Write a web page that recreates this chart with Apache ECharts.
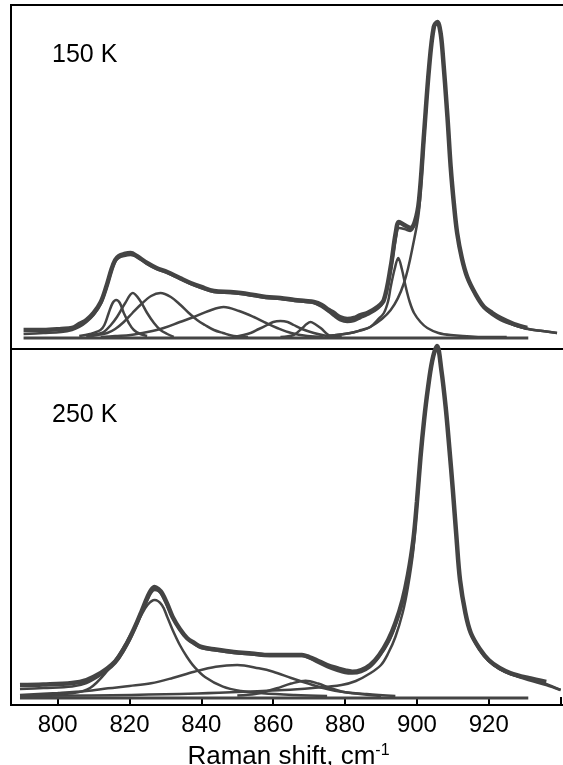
<!DOCTYPE html>
<html><head><meta charset="utf-8">
<script src="https://cdn.jsdelivr.net/npm/echarts@6/dist/echarts.min.js"></script>
<style>html,body{margin:0;padding:0;background:#fff}#c{width:563px;height:765px}</style>
</head><body><div id="c"></div>
<script>
// ---- axis ticks / labels ----
const xTickValues = [800, 820, 840, 860, 880, 900, 920, 940];
const xTickLabels = [800, 820, 840, 860, 880, 900, 920];
const panelLabels = ['150 K', '250 K'];
const xAxisTitle = 'Raman shift, cm';
const xAxisTitleSup = '-1';

// ---- 150 K panel (intensity, arbitrary units) ----
const t150Data = [[790.5,19],[796,19],[801,20],[804,21],[806,25],[808,29],[810,36],[812,47],[813.5,62],[815,80],[816,89],[817,93],[818.5,95],[820.3,96],[822,93],[824.9,86],[827.5,81],[830.5,77],[834,71],[837,66],[840,62],[843.5,58],[848.1,57],[851,56],[854.6,54],[858,52],[862,51],[866,49],[869,48],[871.3,47],[873.5,44],[875.5,39],[876.9,36],[878.5,32],[880.6,30],[882.5,31],[884.3,34],[886.2,36],[889,42],[890.8,49],[892.7,82],[894.1,116],[895,127],[896.5,124],[898.2,121],[899.5,128],[900.6,149],[902,216],[903.4,282],[904.7,322],[905.7,327],[906.5,318],[907.1,299],[908.5,232],[909.4,182],[910.3,145],[911.2,116],[912.5,91],[914,72],[916.3,55],[918.7,42],[921,36],[923.3,31],[927,25],[930.7,21]];
const t150Fit = [[790.5,15],[796,16],[801,17],[804,19],[806,22],[808,27],[810,34],[812,45],[813.5,60],[815,78],[816,87],[817,91],[818.5,93],[820.3,94],[822,92],[824.9,85],[827.5,80],[830.5,76],[834,70],[837,65],[840,61],[843.5,57],[848.1,56],[851,55],[854.6,53],[858,51],[862,50],[866,48],[869,47],[871.3,46],[873.5,42],[875.5,37],[876.9,33],[878.5,29],[880.6,27],[882.5,28],[884.3,31],[886.2,34],[889,40],[890.8,48],[892.7,78],[894.1,110],[895,121],[896.5,120],[898.2,118],[899.5,126],[900.6,147],[902,214],[903.4,281],[904.7,321],[905.7,326],[906.5,317],[907.1,298],[908.5,231],[909.4,181],[910.3,144],[911.2,115],[912.5,90],[914,71],[916.3,54],[918.7,41],[921,34],[923.3,29],[927,24],[931,20],[935,18],[939,16]];
const t150C816 = [[806,13],[809,15],[811.9,19],[813,24],[814.2,36],[815.3,46],[816.3,49],[817.3,46],[818.4,36],[819.8,26],[821.2,19],[823,15],[824.9,13]];
const t150C821 = [[808,13],[811,15],[812.8,17],[814.8,24],[816.5,32],[818.8,46],[820.9,56],[823,48],[824.9,36],[826.8,26],[828.6,19],[830.5,15],[832.3,12]];
const t150C829 = [[808,12],[811,14],[813.8,16],[816,20],[818.4,27],[820.8,36],[823,44],[826,53],[828.6,56],[831.5,52],[834.2,44],[836.5,36],[838.8,29],[841,24],[843.5,19],[846,16],[849,13],[853,12]];
const t150C846 = [[812,12],[816,13],[820.3,14],[825,17],[829.5,21],[834,27],[837.9,32],[842,38],[846.2,42],[850.5,38],[854.6,32],[858,26],[861.1,21],[865,16],[869.5,13],[874,12]];
const t150C862 = [[849,12],[853.7,16],[856,20],[858.3,24],[860,27],[862,28],[864,27],[865.7,24],[868,20],[871.3,16],[875,13],[879,12]];
const t150C871 = [[862,12],[865.7,14],[868.1,21],[869.3,25],[870.4,27],[871.6,25],[873.2,21],[876,13],[879,12]];
const t150C894 = [[875,13],[881.5,16],[884.5,19],[887,22],[889,29],[890.8,36],[892,48],[892.7,62],[893.8,80],[894.8,91],[895.8,80],[896.9,62],[898,47],[899.2,36],[901,27],[902.9,21],[906,16],[909.4,14],[918.7,12],[925,12]];
const t150C906 = [[875,13],[881.5,16],[887,22],[892.7,39],[896.4,66],[899.2,109],[900.6,139],[902,209],[903.4,280],[904.7,320],[905.7,327],[906.5,318],[907.1,299],[908.5,232],[909.4,182],[910.3,145],[911.2,116],[912.5,91],[914,72],[916.3,55],[918.7,42],[921,35],[923.3,30],[927,24],[931,20],[935,18],[939,16]];
const t150Base = [[790.5,11],[931,11]];

// ---- 250 K panel ----
const b250Data = [[789.5,20],[796,20.5],[804,22],[808,25],[812,32],[815,40],[817,48],[819.5,63],[822,82],[823.5,95],[825,108],[826,115],[827,118],[828,116],[829,112],[830.5,101],[832,88],[834,76],[836,67],[838,62],[840,58],[844,55.5],[849,53],[854,51.5],[859,50],[864,50],[868,50],[870,48],[872,45],[875,40],[878,36.5],[880,34.5],[882,33.3],[884.5,35],[887,40],[889.5,50],[892,65],[894,82],[896,105],[897.5,130],[899,165],[900,203],[901,248],[902,285],[903,315],[904.3,345],[905.6,359],[906.8,335],[908,298],[909,258],[910,215],[911,168],[912,125],[913.5,92],[915,72],[917.5,56],[920,45],[923,37],[926,32],[931,27],[936,23]];
const b250Fit = [[789.5,16],[796,17],[804,18.5],[808,22],[812,30],[815,38],[817,46],[819.5,61],[822,80],[823.5,93],[825,105],[826,112],[827,115],[828,114],[829,110],[830.5,99],[832,87],[834,75],[836,66],[838,61],[840,57],[844,54.5],[849,52],[854,50.5],[859,49],[864,49],[868,49],[870,47],[872,43],[875,38],[878,34],[880,32],[882,31.5],[884.5,33],[887,38],[889.5,48],[892,62],[894,79],[896,102],[897.5,127],[899,162],[900,201],[901,246],[902,284],[903,314],[904.3,344],[905.6,358],[906.8,334],[908,297],[909,257],[910,214],[911,167],[912,124],[913.5,91],[915,71],[917.5,55],[920,44],[923,36],[926,31],[931,26],[936,21],[940,15]];
const b250C827 = [[789.8,9],[797,10.5],[804,11.7],[809,17],[814,35],[817,50],[819,62],[821,75],[823,88],[825,100],[827,105],[829,100],[830.5,88],[832,75],[834,60],[836,48],[838,38.3],[841,28],[846,18.3],[851,14],[857,11.7],[866,10],[875,9]];
const b250C850 = [[789.5,10],[800,12],[808,14],[814,16.7],[820,19],[826,21.7],[832,27],[838,33.3],[844,38.3],[850,40],[856,36.7],[860,33.3],[865,27],[871,20],[875,16],[879,13.3],[886,11],[894,9]];
const b250C869 = [[850,9.5],[855,11],[858,13.5],[861,16.7],[865,21.5],[869,24.3],[872.5,21.5],[876,16.7],[879,13.5],[882,11.7],[890,9]];
const b250C906 = [[789.5,9],[834,11],[863,15],[871,17],[879,20],[883,24],[887,31.7],[890,40],[892,51.7],[894,68],[896,91.7],[897.5,118],[899,155],[900,198],[901,245],[902,283],[903,313],[904.3,343],[905.6,359],[906.8,335],[908,298],[909,258],[910,215],[911,168],[912,125],[913.5,92],[915,72],[917.5,55],[920,44],[923,36],[926,31],[931,25],[936,20],[940,15]];
const b250Base = [[789.5,7],[931,7]];

const LINE = '#444444';
function ln(data, gi, w, clip) {
  return {type:'line', data:data, xAxisIndex:gi, yAxisIndex:gi, showSymbol:false, smooth:0.35,
    clip: clip !== false, lineStyle:{color:LINE, width:w}, z: w > 3 ? 3 : 2, silent:true};
}

const chart = echarts.init(document.getElementById('c'), null, {renderer:'canvas'});
const FONT = "'Liberation Sans', Arial, sans-serif";
chart.setOption({
  animation:false,
  backgroundColor:'#fff',
  grid:[
    {left:11, top:5, width:555, height:344, show:true, borderColor:'#000', borderWidth:2, backgroundColor:'transparent', containLabel:false, outerBoundsMode:'none'},
    {left:11, top:349, width:555, height:356, show:true, borderColor:'#000', borderWidth:2, backgroundColor:'transparent', containLabel:false, outerBoundsMode:'none'}
  ],
  xAxis:[
    {type:'value', gridIndex:0, min:787, max:941.5, axisLine:{show:false}, axisTick:{show:false}, axisLabel:{show:false}, splitLine:{show:false}},
    {type:'value', gridIndex:1, min:787, max:941.5,
      axisLine:{show:true, lineStyle:{color:'#000', width:2}},
      axisTick:{show:true, inside:true, length:8, lineStyle:{color:'#000', width:2}, customValues:xTickValues},
      axisLabel:{show:true, margin:8, color:'#000', fontSize:24, fontFamily:FONT, customValues:xTickLabels},
      splitLine:{show:false},
      name: '{t|' + xAxisTitle + '}{s|' + xAxisTitleSup + '}', nameLocation:'middle', nameGap:38,
      nameTextStyle:{rich:{t:{fontSize:26, fontFamily:FONT, color:'#000'}, s:{fontSize:16, fontFamily:FONT, color:'#000', verticalAlign:'top', padding:[0,0,12,0]}}}
    }
  ],
  yAxis:[
    {type:'value', gridIndex:0, min:0, max:344, show:false},
    {type:'value', gridIndex:1, min:0, max:356, show:false}
  ],
  graphic:[
    {type:'text', left:52, top:43, style:{text:panelLabels[0], fontSize:25, fontFamily:FONT, fill:'#000'}},
    {type:'text', left:52, top:403, style:{text:panelLabels[1], fontSize:25, fontFamily:FONT, fill:'#000'}}
  ],
  series:[
    ln(t150Base,0,3), ln(t150C816,0,2.5), ln(t150C821,0,2.5), ln(t150C829,0,2.5), ln(t150C846,0,2.5),
    ln(t150C862,0,2.5), ln(t150C871,0,2.5), ln(t150C894,0,2.5), ln(t150C906,0,2.5), ln(t150Fit,0,2.5), ln(t150Data,0,4.5),
    ln(b250Base,1,3), ln(b250C827,1,2.5), ln(b250C850,1,2.5), ln(b250C869,1,2.5), ln(b250C906,1,2.5,false),
    ln(b250Fit,1,2.5,false), ln(b250Data,1,4.5,false)
  ]
});
</script></body></html>
